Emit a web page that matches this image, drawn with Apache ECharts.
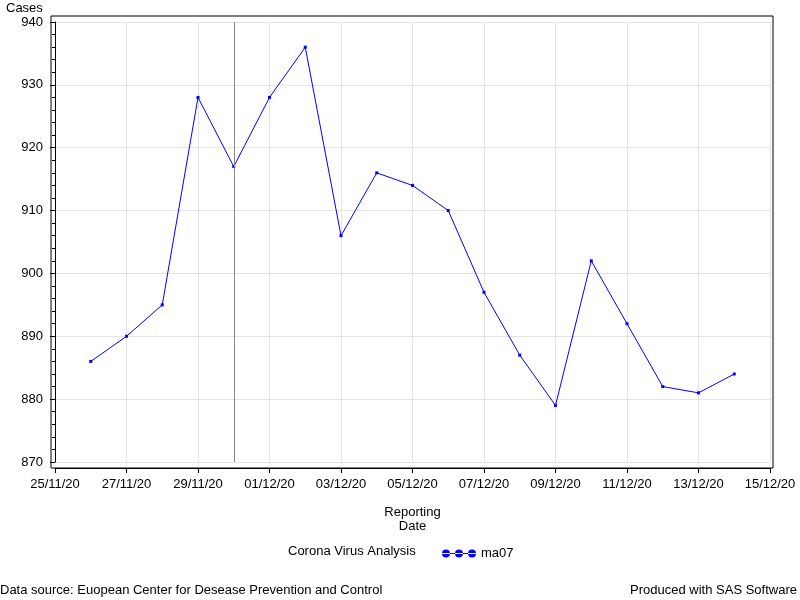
<!DOCTYPE html>
<html><head><meta charset="utf-8">
<script src="https://cdn.jsdelivr.net/npm/echarts@6/dist/echarts.min.js"></script>
<style>html,body{margin:0;padding:0;background:#fff}#c{width:800px;height:600px}</style>
</head><body><div id="c"></div>
<script>
// Day offsets from 25/11/2020
const startDate = new Date(2020, 10, 25);
const dayOffsets = [1,2,3,4,5,6,7,8,9,10,11,12,13,14,15,16,17,18,19];
const ma07 = [886,890,895,928,917,928,936,906,916,914,910,897,887,879,902,892,882,881,884];
const refLineDay = 5; // 30/11/20
const yTicks = {min: 870, max: 940, interval: 10};
const xTicks = {min: 0, max: 20, interval: 2};

function fmtDay(v){
  const d = new Date(startDate.getTime());
  d.setDate(d.getDate() + Math.round(v));
  const dd = String(d.getDate()).padStart(2,'0');
  const mm = String(d.getMonth()+1).padStart(2,'0');
  const yy = String(d.getFullYear()).slice(2);
  return dd + '/' + mm + '/' + yy;
}

const font = 'Liberation Sans, Arial, sans-serif';
const fs = 13;
const chart = echarts.init(document.getElementById('c'), null, {renderer:'canvas'});
const threeDots = 'path://M0,3.5h34v1h-34z M0,4a4,4 0 1,0 8,0a4,4 0 1,0 -8,0z M13,4a4,4 0 1,0 8,0a4,4 0 1,0 -8,0z M26,4a4,4 0 1,0 8,0a4,4 0 1,0 -8,0z';

chart.setOption({
  animation:false,
  backgroundColor:'#fff',
  textStyle:{fontFamily:font},
  grid:{left:55, right:30, top:22, bottom:138, show:false},
  graphic:[
    {type:'rect', z:100, silent:true, shape:{x:51, y:16, width:722, height:452}, style:{fill:'none', stroke:'#000', lineWidth:1}},
    {type:'text', left:6, top:2, style:{text:'Cases', font:fs+'px '+font, fill:'#000'}},
    {type:'text', left:288, top:545, style:{text:'Corona Virus Analysis', font:fs+'px '+font, fill:'#000'}},
    {type:'text', left:0, top:584, style:{text:'Data source: Euopean Center for Desease Prevention and Control', font:fs+'px '+font, fill:'#000'}},
    {type:'text', right:3, top:584, style:{text:'Produced with SAS Software', font:fs+'px '+font, fill:'#000'}}
  ],
  legend:{
    left:442, top:547, itemWidth:34, itemHeight:8, itemGap:5, padding:0,
    icon: threeDots,
    textStyle:{fontSize:fs, color:'#000', fontFamily:font},
    data:[{name:'ma07', itemStyle:{color:'#0000FF'}}]
  },
  xAxis:{
    type:'value', min:xTicks.min, max:xTicks.max, interval:xTicks.interval,
    offset:6,
    name:'Reporting\nDate', nameLocation:'middle', nameGap:37,
    nameTextStyle:{fontSize:fs, color:'#000', fontFamily:font, lineHeight:14},
    axisLine:{show:true, lineStyle:{color:'#000'}},
    axisTick:{show:true, length:5, lineStyle:{color:'#000'}},
    axisLabel:{color:'#000', fontSize:fs, margin:10, formatter:fmtDay},
    splitLine:{show:true, lineStyle:{color:'#e4e4e4', width:1}}
  },
  yAxis:{
    type:'value', min:yTicks.min, max:yTicks.max, interval:yTicks.interval,
    offset:4,
    axisLine:{show:true, lineStyle:{color:'#000'}},
    axisTick:{show:true, length:5, lineStyle:{color:'#000'}},
    minorTick:{show:true, splitNumber:5, length:3, lineStyle:{color:'#000'}},
    axisLabel:{color:'#000', fontSize:fs, margin:8},
    splitLine:{show:true, lineStyle:{color:'#e4e4e4', width:1}}
  },
  series:[{
    name:'ma07', type:'line',
    data: dayOffsets.map((d,i)=>[d, ma07[i]]),
    symbol:'rect', symbolSize:3,
    lineStyle:{color:'#0000FF', width:1},
    itemStyle:{color:'#0000FF'},
    markLine:{
      silent:true, symbol:'none', label:{show:false},
      lineStyle:{color:'#888', type:'solid', width:1},
      data:[{xAxis:refLineDay}]
    }
  }]
});
</script></body></html>
